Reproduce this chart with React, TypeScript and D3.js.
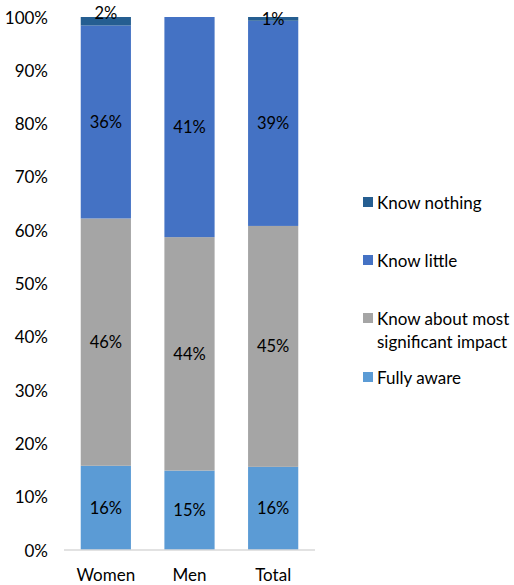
import React from "react";
import * as d3 from "d3";

const categories = ["Women", "Men", "Total"];
const seriesNames = ["Fully aware", "Know about most significant impact", "Know little", "Know nothing"];
const fullyAware = [15.8, 14.9, 15.6];
const knowAboutMost = [46.4, 43.8, 45.2];
const knowLittle = [36.2, 41.3, 38.5];
const knowNothing = [1.6, 0, 0.7];
const yTicks = [0, 10, 20, 30, 40, 50, 60, 70, 80, 90, 100];
const colors = ["#5B9BD5", "#A5A5A5", "#4472C4", "#255E91"];

const W = 514;
const H = 585;
const FONT = "'Lato', 'Open Sans', sans-serif";

export default function App() {
  const x = d3.scaleBand<string>().domain(categories).range([64, 315]).paddingInner(0.4).paddingOuter(0.2);
  const y = d3.scaleLinear().domain([0, 100]).range([550, 17]);

  const rows = categories.map((c, i) => ({
    cat: c,
    fa: fullyAware[i],
    km: knowAboutMost[i],
    kl: knowLittle[i],
    kn: knowNothing[i],
  }));
  const keys = ["fa", "km", "kl", "kn"];
  const stacked = d3.stack<any>().keys(keys)(rows);

  const legendY = [202, 260, 318, 377];
  const legendOrder = [3, 2, 1, 0];

  return (
    <svg width={W} height={H} style={{ position: "absolute", left: 0, top: 0, background: "#fff" }} fontFamily={FONT}>
      {stacked.map((s, si) => (
        <g key={si}>
          {s.map((d, ci) => {
            const v = d[1] - d[0];
            if (v <= 0) return null;
            const bx = x(categories[ci])!;
            return (
              <rect key={ci} x={bx} y={y(d[1])} width={x.bandwidth()} height={y(d[0]) - y(d[1])} fill={colors[si]} />
            );
          })}
        </g>
      ))}
      {stacked.map((s, si) =>
        s.map((d, ci) => {
          const v = d[1] - d[0];
          if (v <= 0) return null;
          const bx = x(categories[ci])! + x.bandwidth() / 2;
          let cy = (y(d[0]) + y(d[1])) / 2;
          if (si === 3 && v >= 1.5) cy -= 8;
          return (
            <text key={`${si}-${ci}`} x={bx} y={cy} textAnchor="middle" dominantBaseline="central" fontSize={16.5} fill="#000">
              {Math.round(v)}%
            </text>
          );
        })
      )}
      <line x1={64} x2={315} y1={y(0)} y2={y(0)} stroke="#D9D9D9" strokeWidth={1.5} />
      {yTicks.map((t) => (
        <text key={t} x={48} y={y(t)} textAnchor="end" dominantBaseline="central" fontSize={17} fill="#000">
          {t}%
        </text>
      ))}
      {categories.map((c) => (
        <text key={c} x={x(c)! + x.bandwidth() / 2} y={574} textAnchor="middle" dominantBaseline="central" fontSize={17} fill="#000">
          {c}
        </text>
      ))}
      {legendOrder.map((si, li) => (
        <g key={si}>
          <rect x={363} y={legendY[li] - 5} width={10} height={10} fill={colors[si]} />
          {si === 1 ? (
            <text x={377} y={legendY[li]} dominantBaseline="central" fontSize={17} fill="#000">
              <tspan x={377}>Know about most</tspan>
              <tspan x={377} dy={23}>significant impact</tspan>
            </text>
          ) : (
            <text x={377} y={legendY[li]} dominantBaseline="central" fontSize={17} fill="#000">
              {seriesNames[si]}
            </text>
          )}
        </g>
      ))}
    </svg>
  );
}
